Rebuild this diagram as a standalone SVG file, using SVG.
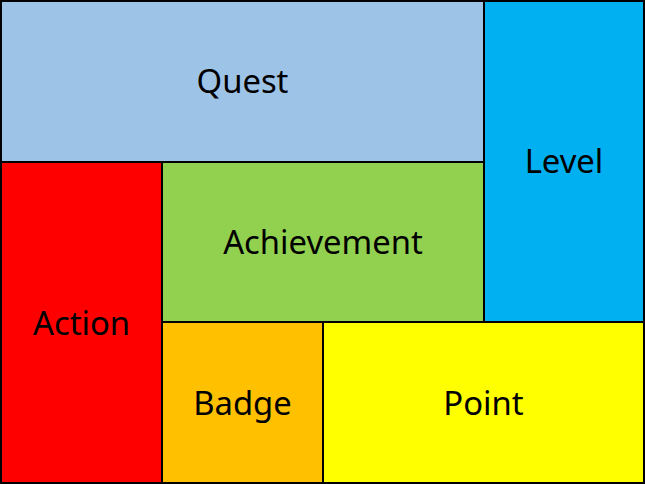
<svg xmlns="http://www.w3.org/2000/svg" width="645" height="484" viewBox="0 0 645 484">
<style>
rect{stroke:#000;stroke-width:2}
text{font-family:"Noto Sans","Open Sans","Liberation Sans",sans-serif;font-size:32.8px;fill:#000;text-anchor:middle}
</style>
<rect x="0" y="0" width="645" height="484" fill="#fff" stroke="none"/>
<g id="quest"><rect x="1" y="1" width="483" height="161" fill="#9DC3E6"/><text x="242.5" y="93">Quest</text></g>
<g id="level"><rect x="484" y="1" width="160" height="321" fill="#00B0F0"/><text x="564" y="173">Level</text></g>
<g id="action"><rect x="1" y="162" width="161" height="321" fill="#FF0000"/><text x="81.5" y="335">Action</text></g>
<g id="achievement"><rect x="162" y="162" width="322" height="160" fill="#92D050"/><text x="323" y="254">Achievement</text></g>
<g id="badge"><rect x="162" y="322" width="161" height="161" fill="#FFC000"/><text x="242.5" y="415">Badge</text></g>
<g id="point"><rect x="323" y="322" width="321" height="161" fill="#FFFF00"/><text x="483.5" y="415">Point</text></g>
<g id="connectors"></g>
</svg>
